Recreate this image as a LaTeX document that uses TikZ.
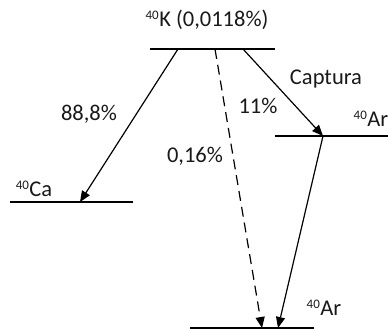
\documentclass[tikz,border=0pt]{standalone}
\usepackage{fontspec}
\setmainfont{Carlito}
\usetikzlibrary{arrows.meta}
\tikzset{
  level/.style={line width=1.3pt},
  decay/.style={line width=1.2pt,-{Triangle[length=11pt,width=9pt]}},
  lbl/.style={inner sep=0pt,font=\fontsize{22.5}{24}\selectfont,text=black!90},
}
\newcommand{\iso}[2]{\textsuperscript{\fontsize{13}{14}\selectfont #1}#2}
\begin{document}
\begin{tikzpicture}[x=1pt,y=-1pt]
\useasboundingbox (0,0) rectangle (388,329);
% levels
\draw[level] (150,49) coordinate (k0) -- (275,49) coordinate (k1);
\draw[level] (10,202) coordinate (ca0) -- (133,202) coordinate (ca1);
\draw[level] (275,136) coordinate (ar0) -- (388,136) coordinate (ar1);
\draw[level] (190,328) coordinate (b0) -- (314,328) coordinate (b1);
% arrow ends
\coordinate (kA) at (178,49);
\coordinate (kB) at (215,49);
\coordinate (kC) at (243,49);
\coordinate (caT) at (80,202);
\coordinate (arT) at (323,136);
\coordinate (bT1) at (262,328);
\coordinate (bT2) at (278,328);
\draw[decay] (kA) -- (caT);
\draw[decay,dash pattern=on 10pt off 6pt] (kB) -- (bT1);
\draw[decay] (kC) -- (arT);
\draw[decay] (arT) -- (bT2);
% labels
\node[lbl] (lk) at (207,20) {\iso{40}{K (0,0118\%)}};
\node[lbl] (l88) at (89,114) {88,8\%};
\node[lbl] (l016) at (195,156) {0,16\%};
\node[lbl] (l11) at (258,106) {11\%};
\node[lbl] (lcap) at (326,79) {Captura};
\node[lbl] (lca) at (34,189) {\iso{40}{Ca}};
\node[lbl] (lar1) at (371,119) {\iso{40}{Ar}};
\node[lbl] (lar2) at (324,308) {\iso{40}{Ar}};
\end{tikzpicture}
\end{document}
